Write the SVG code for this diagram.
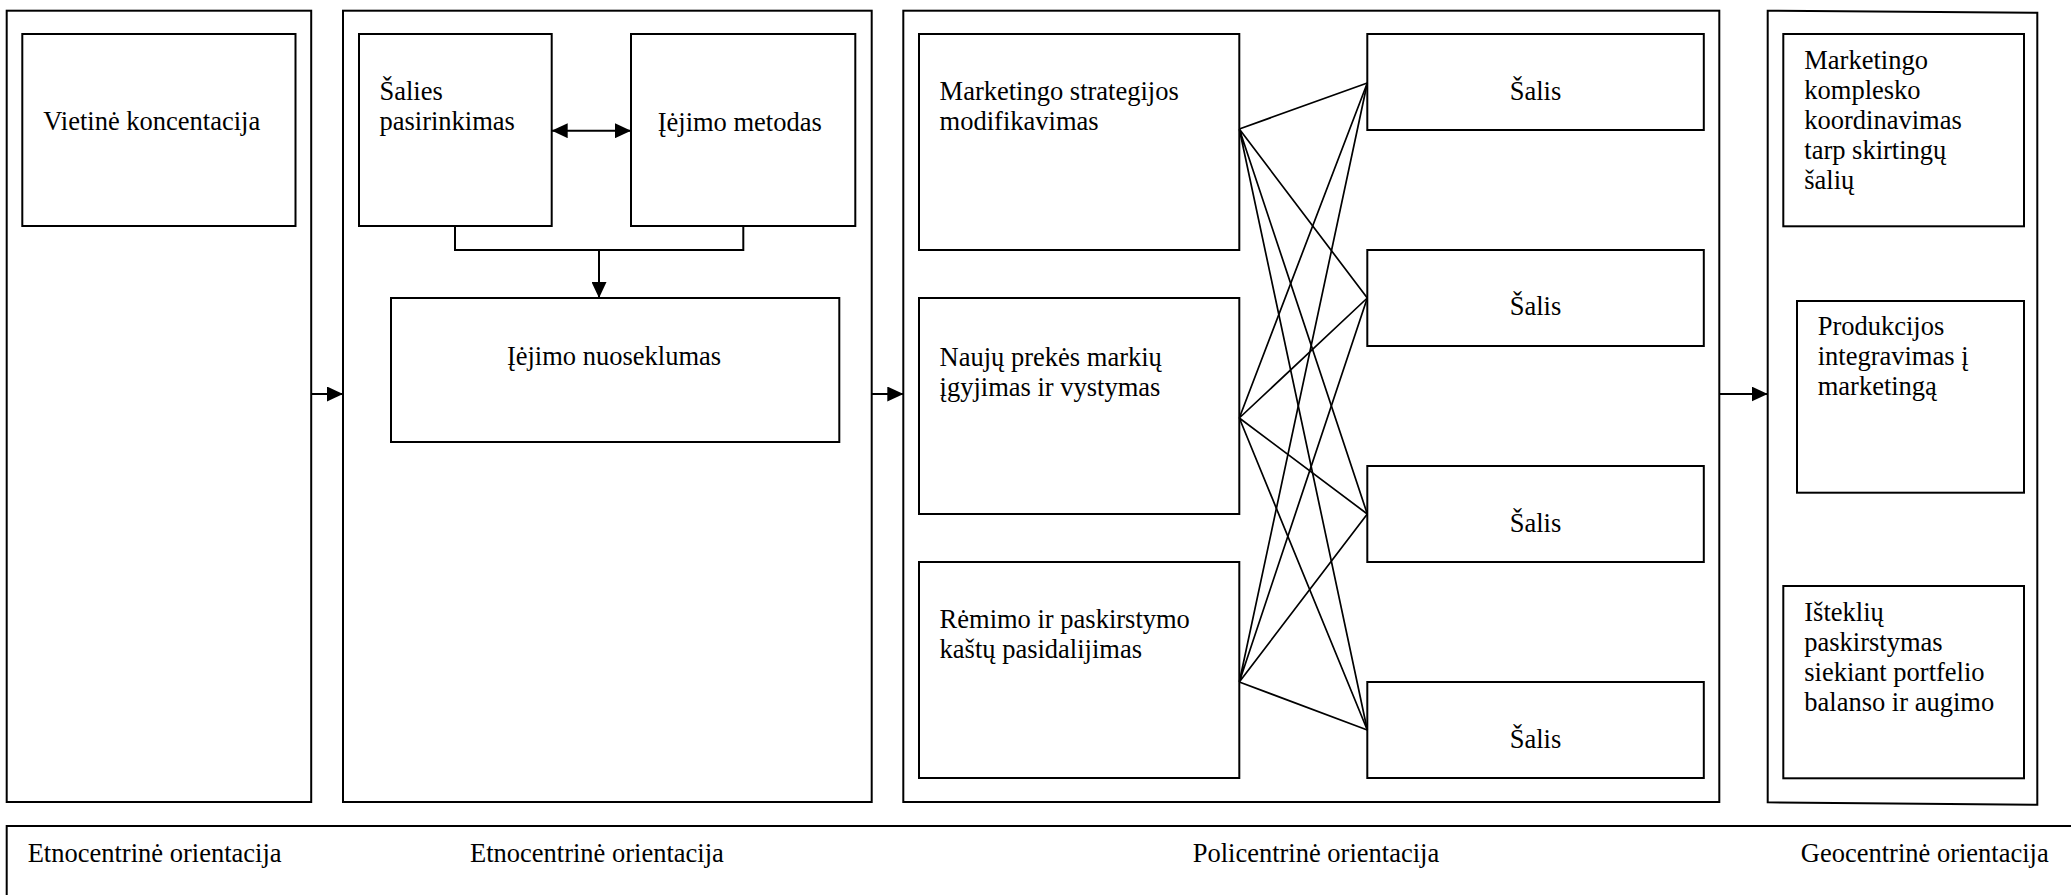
<svg xmlns="http://www.w3.org/2000/svg" width="2071" height="895" viewBox="0 0 2071 895">
  <defs>
    <style>
      .box { fill: #fff; stroke: #000; stroke-width: 2; }
      .frame { fill: none; stroke: #000; stroke-width: 2; }
      .link { fill: none; stroke: #000; stroke-width: 2; }
      .fan { fill: none; stroke: #000; stroke-width: 1.7; }
      .t { font-family: "Liberation Serif", "Times New Roman", serif; font-size: 26.5px; fill: #000; }
      .c { text-anchor: middle; }
    </style>
    <marker id="arrow" markerUnits="userSpaceOnUse" markerWidth="16" markerHeight="15" refX="16" refY="7.5" orient="auto-start-reverse">
      <path d="M0,0 L16,7.5 L0,15 Z" fill="#000"/>
    </marker>
  </defs>
  <rect width="2071" height="895" fill="#fff"/>

  <!-- Stage 1: domestic -->
  <g id="panel-domestic">
    <rect class="frame" x="6.7" y="10.7" width="304.5" height="791.3"/>
    <g id="node-vietine">
      <rect class="box" x="22.3" y="34" width="273.2" height="192"/>
      <text class="t" x="43.3" y="130">Vietinė koncentacija</text>
    </g>
  </g>

  <!-- Stage 2: entry -->
  <g id="panel-entry">
    <rect class="frame" x="343" y="10.7" width="528.7" height="791.3"/>
    <g id="node-saliespasirinkimas">
      <rect class="box" x="359" y="34" width="192.7" height="192"/>
      <text class="t" x="379.5" y="100">Šalies</text>
      <text class="t" x="379.5" y="130">pasirinkimas</text>
    </g>
    <g id="node-iejimometodas">
      <rect class="box" x="631" y="34" width="224.3" height="192"/>
      <text class="t" x="657.7" y="130.7">Įėjimo metodas</text>
    </g>
    <g id="node-iejimonuoseklumas">
      <rect class="box" x="391" y="298" width="448.3" height="144"/>
      <text class="t c" x="614" y="365">Įėjimo nuoseklumas</text>
    </g>
  </g>

  <!-- Stage 3: polycentric -->
  <g id="panel-poly">
    <rect class="frame" x="903.3" y="10.7" width="816" height="791.3"/>
    <g id="node-strategija">
      <rect class="box" x="919" y="34" width="320.3" height="216"/>
      <text class="t" x="939.6" y="100">Marketingo strategijos</text>
      <text class="t" x="939.6" y="130">modifikavimas</text>
    </g>
    <g id="node-markes">
      <rect class="box" x="919" y="298" width="320.3" height="216"/>
      <text class="t" x="939.6" y="366">Naujų prekės markių</text>
      <text class="t" x="939.6" y="396">įgyjimas ir vystymas</text>
    </g>
    <g id="node-remimas">
      <rect class="box" x="919" y="562" width="320.3" height="216"/>
      <text class="t" x="939.6" y="628">Rėmimo ir paskirstymo</text>
      <text class="t" x="939.6" y="658">kaštų pasidalijimas</text>
    </g>
    <g id="node-salis1">
      <rect class="box" x="1367.3" y="34" width="336.5" height="96"/>
      <text class="t c" x="1535.5" y="100">Šalis</text>
    </g>
    <g id="node-salis2">
      <rect class="box" x="1367.3" y="250" width="336.5" height="96"/>
      <text class="t c" x="1535.5" y="315">Šalis</text>
    </g>
    <g id="node-salis3">
      <rect class="box" x="1367.3" y="466" width="336.5" height="96"/>
      <text class="t c" x="1535.5" y="532">Šalis</text>
    </g>
    <g id="node-salis4">
      <rect class="box" x="1367.3" y="682" width="336.5" height="96"/>
      <text class="t c" x="1535.5" y="748">Šalis</text>
    </g>
  </g>

  <!-- Stage 4: geocentric -->
  <g id="panel-geo">
    <polygon class="frame" points="1767.7,10.7 2037.3,12.7 2037.3,804.7 1767.7,802.3"/>
    <g id="node-koordinavimas">
      <rect class="box" x="1783.3" y="34" width="240.7" height="192.3"/>
      <text class="t" x="1804.3" y="69">Marketingo</text>
      <text class="t" x="1804.3" y="99">komplesko</text>
      <text class="t" x="1804.3" y="129">koordinavimas</text>
      <text class="t" x="1804.3" y="159">tarp skirtingų</text>
      <text class="t" x="1804.3" y="189">šalių</text>
    </g>
    <g id="node-produkcija">
      <rect class="box" x="1797" y="301" width="227" height="191.7"/>
      <text class="t" x="1817.7" y="335">Produkcijos</text>
      <text class="t" x="1817.7" y="365">integravimas į</text>
      <text class="t" x="1817.7" y="395">marketingą</text>
    </g>
    <g id="node-istekliai">
      <rect class="box" x="1783.3" y="586" width="240.7" height="192.3"/>
      <text class="t" x="1804.3" y="620.7">Išteklių</text>
      <text class="t" x="1804.3" y="650.7">paskirstymas</text>
      <text class="t" x="1804.3" y="680.7">siekiant portfelio</text>
      <text class="t" x="1804.3" y="710.7">balanso ir augimo</text>
    </g>
  </g>

  <!-- Orientation strip -->
  <g id="orientation-strip">
    <path class="frame" d="M2071,826 H6.7 V895"/>
    <text class="t" x="27.7" y="862">Etnocentrinė orientacija</text>
    <text class="t" x="470" y="862">Etnocentrinė orientacija</text>
    <text class="t" x="1192.7" y="862">Policentrinė orientacija</text>
    <text class="t" x="1800.8" y="862">Geocentrinė orientacija</text>
  </g>

  <!-- Connectors -->
  <g id="connectors">
    <path class="link" d="M311.2,394 H343" marker-end="url(#arrow)"/>
    <path class="link" d="M871.7,394 H903.3" marker-end="url(#arrow)"/>
    <path class="link" d="M1719.3,394 H1767.7" marker-end="url(#arrow)"/>
    <path class="link" d="M551.7,130.7 H631" marker-start="url(#arrow)" marker-end="url(#arrow)"/>
    <path class="link" d="M455,226 V250 H743.3 V226"/>
    <path class="link" d="M599,250 V298" marker-end="url(#arrow)"/>
    <g id="fan">
      <path class="fan" d="M1239.3,129 L1367.3,83 M1239.3,129 L1367.3,298 M1239.3,129 L1367.3,514 M1239.3,129 L1367.3,730"/>
      <path class="fan" d="M1239.3,418 L1367.3,83 M1239.3,418 L1367.3,298 M1239.3,418 L1367.3,514 M1239.3,418 L1367.3,730"/>
      <path class="fan" d="M1239.3,682 L1367.3,83 M1239.3,682 L1367.3,298 M1239.3,682 L1367.3,514 M1239.3,682 L1367.3,730"/>
    </g>
  </g>
</svg>
